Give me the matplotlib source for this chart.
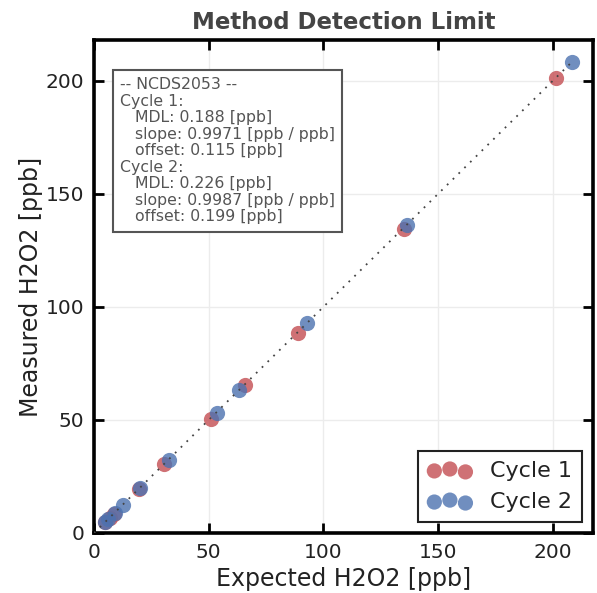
import matplotlib
matplotlib.use("Agg")
import matplotlib.pyplot as plt

# cycle 1 (red) and cycle 2 (blue) -- expected vs measured [ppb]
c1_expected = [5.0, 7.0, 8.5, 19.5, 30.5, 51.0, 66.0, 89.0, 135.0, 201.5]
c1_measured = [4.8, 6.8, 8.2, 19.3, 30.3, 50.6, 65.3, 88.5, 134.3, 201.0]
c2_expected = [4.8, 6.0, 9.0, 12.5, 20.0, 32.5, 53.5, 63.0, 93.0, 136.5, 208.5]
c2_measured = [4.8, 6.0, 9.0, 12.4, 20.0, 32.2, 53.2, 63.3, 93.0, 136.3, 208.3]
ref_line = [0, 209]
ticks = [0, 50, 100, 150, 200]

info = ("-- NCDS2053 --\n"
        "Cycle 1:\n"
        "   MDL: 0.188 [ppb]\n"
        "   slope: 0.9971 [ppb / ppb]\n"
        "   offset: 0.115 [ppb]\n"
        "Cycle 2:\n"
        "   MDL: 0.226 [ppb]\n"
        "   slope: 0.9987 [ppb / ppb]\n"
        "   offset: 0.199 [ppb]")

red = '#c44e52'
blue = '#4c72b0'

fig = plt.figure(figsize=(5.97, 5.93), dpi=100)
ax = fig.add_axes([0.1575, 0.1012, 0.8358, 0.8313])

ax.plot(ref_line, ref_line, color='#444444', lw=1.3, linestyle=(0, (1, 3.5)), zorder=3)
ax.scatter(c1_expected, c1_measured, s=120, color=red, alpha=0.8, lw=0, label='Cycle 1', zorder=2)
ax.scatter(c2_expected, c2_measured, s=120, color=blue, alpha=0.8, lw=0, label='Cycle 2', zorder=2)

ax.set_xlim(0, 217.5)
ax.set_ylim(0, 218)
ax.set_xticks(ticks)
ax.set_yticks(ticks)
ax.grid(True, color='#ececec', lw=1)
ax.set_axisbelow(True)

for s in ax.spines.values():
    s.set_linewidth(2.6)
    s.set_color('black')
ax.tick_params(direction='in', length=7, width=2, top=True, right=True,
               labelsize=14.5, colors='black', labelcolor='#222222', pad=7)

ax.set_xlabel('Expected H2O2 [ppb]', fontsize=17, color='#222222', labelpad=4)
ax.set_ylabel('Measured H2O2 [ppb]', fontsize=17, color='#222222', labelpad=2)
ax.set_title('Method Detection Limit', fontsize=16.5, fontweight='bold', color='#444444', pad=8)

ax.text(0.052, 0.925, info, transform=ax.transAxes, fontsize=11.3, color='#555555',
        va='top', ha='left', linespacing=1.13,
        bbox=dict(boxstyle='square,pad=0.45', facecolor='white', edgecolor='#555555', lw=1.5))

leg = ax.legend(loc='lower right', scatterpoints=3, fontsize=16, frameon=True,
                fancybox=False, edgecolor='#222222', framealpha=1,
                borderpad=0.45, handletextpad=0.8, labelspacing=0.5,
                borderaxespad=0.5)
leg.get_frame().set_linewidth(1.5)
for t in leg.get_texts():
    t.set_color('#222222')

fig.savefig('out.png', dpi=100)
